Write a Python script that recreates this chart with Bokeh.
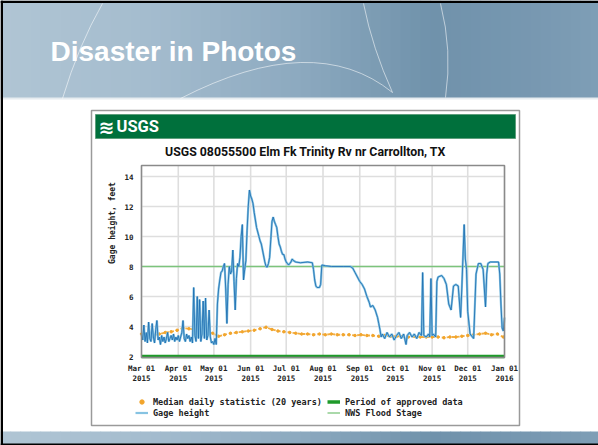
import pandas as pd
from bokeh.plotting import figure
from bokeh.models import (Range1d, FixedTicker, DatetimeTickFormatter, BoxAnnotation,
                          Label, Legend, LegendItem, LinearAxis, DatetimeAxis)
from bokeh.embed import file_html
from bokeh.resources import INLINE

# ---------------- data ----------------
START = "2015-03-01"
END = "2016-01-01"
month_ticks = ["2015-03-01", "2015-04-01", "2015-05-01", "2015-06-01", "2015-07-01",
               "2015-08-01", "2015-09-01", "2015-10-01", "2015-11-01", "2015-12-01",
               "2016-01-01"]
y_ticks = [2, 4, 6, 8, 10, 12, 14]
flood_stage_ft = 8.0
approved_dates = ["2015-03-01", "2016-01-01"]
approved_level = [2.0, 2.0]

# gage height: day offset from START, feet
gage_day = [0, 1, 2, 3, 4, 5, 6, 7, 8, 9, 10, 11, 12, 13, 14, 15, 16, 17, 18, 19, 20,
            21, 22, 23, 24, 25, 26, 27, 28, 29, 30,
            31, 32, 33, 34, 35, 36, 37, 38, 39, 40, 41, 42, 43, 44, 45, 46, 47, 48, 49, 50,
            51, 52, 53, 54, 55, 56, 57, 58, 59, 60,
            61, 62, 63, 64, 65, 66, 67, 68, 69, 70, 71, 72, 73, 74, 75, 76, 77, 78, 79, 80,
            81, 82, 83, 84, 85, 86, 87, 88, 89, 90,
            91, 92, 93, 94, 95, 96, 97, 98, 99, 100, 101, 102, 103, 104, 105, 106, 107, 108,
            109, 110, 111, 112, 113, 114, 115, 116, 117, 118, 119, 120, 121, 122, 123, 124,
            125, 126, 127, 128,
            130, 134, 140, 144, 145, 146, 147, 148, 150, 151, 152, 155, 160, 170, 176, 178,
            180, 182, 184, 186, 188, 190, 192, 193, 195, 197, 199, 200, 201, 202,
            203, 205, 207, 209, 211, 213, 215, 217, 219, 221, 223, 224, 226, 228, 230, 232,
            234, 236,
            237, 238, 240, 242, 243, 244, 245, 246, 248, 249, 250, 253, 255, 257, 259, 261,
            263, 265, 267, 269,
            270, 272, 273, 274, 275, 277, 279, 280, 282, 284, 286, 288, 290, 291, 292, 294,
            297, 301, 302, 303, 304, 305, 306]
gage_ft = [3.5, 3.1, 4.1, 3.0, 3.6, 2.9, 4.3, 3.2, 3.0, 4.2, 3.3, 2.9, 3.8, 4.4, 3.1, 3.3,
           2.8, 3.4, 3.0, 3.3, 2.9, 3.2, 3.6, 3.0, 3.2, 3.4, 3.1, 3.5, 3.0, 3.3, 3.1,
           3.4, 3.0, 3.3, 3.6, 4.4, 3.2, 3.0, 3.5, 3.2, 3.4, 3.0, 3.3, 2.9, 6.6, 3.4, 3.0,
           6.0, 3.2, 5.8, 3.0, 3.5, 5.7, 3.2, 5.9, 3.1, 3.4, 5.1, 3.3, 2.9, 3.0,
           2.8, 3.2, 2.8, 5.5, 6.5, 7.1, 7.6, 7.7, 8.0, 8.2, 6.5, 4.2, 6.8, 8.0, 7.5, 7.7,
           9.1, 7.0, 5.1, 7.2, 8.2, 8.0, 8.6, 10.0, 10.8, 7.1, 7.8, 8.4, 10.4, 12.0,
           13.1, 12.7, 12.5, 12.2, 11.6, 11.1, 10.6, 10.3, 10.0, 9.7, 9.5, 9.1, 8.7, 8.3,
           8.0, 7.96, 8.2, 8.6, 9.8, 11.0, 11.3, 11.0, 10.8, 10.6, 10.0, 9.5, 9.3, 9.0,
           8.8, 8.8, 8.5, 8.3, 8.2, 8.1, 8.2, 8.3, 8.5, 8.4,
           8.3, 8.25, 8.3, 8.25, 7.8, 7.1, 6.7, 6.6, 6.6, 6.8, 8.1, 8.05, 8.0, 8.0, 8.0,
           7.9, 7.6, 7.3, 7.0, 6.8, 6.5, 6.0, 5.6, 5.3, 5.4, 5.1, 4.6, 4.2, 3.8, 3.3,
           3.5, 3.2, 3.6, 3.3, 3.5, 3.1, 3.4, 3.6, 3.2, 3.5, 2.8, 3.4, 3.6, 3.3, 3.5, 3.2,
           3.6, 3.4,
           7.6, 3.4, 3.3, 3.5, 3.3, 7.2, 3.4, 3.5, 3.3, 7.0, 7.3, 7.4, 7.2, 6.8, 5.5, 5.1,
           6.7, 6.8, 6.7, 4.6,
           6.5, 10.8, 8.5, 7.8, 5.0, 3.5, 3.3, 3.2, 7.5, 8.2, 8.2, 7.8, 5.3, 7.5, 8.2, 8.3,
           8.3, 8.3, 7.5, 5.5, 3.9, 3.7, 4.6]

# median daily statistic (20 years), every 5 days from START
median_day = [0, 5, 10, 15, 20, 25, 30, 35, 40, 45, 50, 55, 60, 65, 70, 75, 80, 85, 90, 95,
              100, 105, 110, 115, 120, 125, 130, 135, 140, 145, 150, 155, 160, 165, 170,
              175, 180, 185, 190, 195, 200, 205, 210, 215, 220, 225, 230, 235, 240, 245,
              250, 255, 260, 265, 270, 275, 280, 285, 290, 295, 300, 305]
median_ft = [3.5, 3.45, 3.4, 3.5, 3.6, 3.65, 3.75, 3.9, 3.85, 3.8,
             3.75, 3.65, 3.55, 3.35, 3.45, 3.55, 3.6, 3.65, 3.7, 3.75,
             3.85, 3.95, 3.8, 3.7, 3.65, 3.6, 3.55, 3.5, 3.5, 3.45,
             3.5, 3.45, 3.5, 3.45, 3.45, 3.45, 3.4, 3.45, 3.4, 3.4,
             3.35, 3.4, 3.35, 3.35, 3.35, 3.3, 3.35, 3.3, 3.3, 3.3,
             3.3, 3.25, 3.3, 3.3, 3.35, 3.4, 3.45, 3.5, 3.55, 3.45,
             3.5, 3.3]

assert len(gage_day) == len(gage_ft)
assert len(median_day) == len(median_ft)

base = pd.Timestamp(START)
gage_x = [base + pd.Timedelta(days=d) for d in gage_day]
median_x = [base + pd.Timedelta(days=d) for d in median_day]
approved_x = [pd.Timestamp(d) for d in approved_dates]
flood_x = approved_x
flood_y = [flood_stage_ft, flood_stage_ft]


def ms(d):
    return pd.Timestamp(d).value / 1e6


tick_ms = [ms(t) for t in month_ticks]

# ---------------- layout (page pixel coords, y down) ----------------
W, H = 598, 445
FL, FR = 141, 504          # chart data area, left/right pixel
Y2, Y14 = 356, 176         # pixel rows of 2 ft and 14 ft
FT, FB = 165, 357          # chart frame top / bottom pixel
MONO = "DejaVu Sans Mono"

p = figure(width=W, height=H, output_backend="svg", toolbar_location=None, title=None,
           x_range=Range1d(0, W), y_range=Range1d(H, 0),
           x_axis_location=None, y_axis_location=None,
           min_border=0, min_border_left=0, min_border_right=0,
           min_border_top=0, min_border_bottom=0)
p.outline_line_color = None
p.border_fill_color = "white"
p.background_fill_color = "white"
p.grid.visible = False

# chart scales placed inside the page
t0, t1 = ms(START), ms(END)
ms_per_px = (t1 - t0) / (FR - FL)
ft_per_px = (14 - 2) / (Y2 - Y14)
p.extra_x_ranges = {"date": Range1d(t0 - FL * ms_per_px, t1 + (W - FR) * ms_per_px)}
p.extra_y_ranges = {"ft": Range1d(2 - (H - Y2) * ft_per_px, 14 + Y14 * ft_per_px)}
ft_bottom = 2 - (FB - Y2) * ft_per_px
ft_top = 14 + (Y14 - FT) * ft_per_px
R = dict(x_range_name="date", y_range_name="ft")

# ---------------- slide decorations ----------------
def box(x0, y0, x1, y1, fill="white", falpha=1.0, line=None, lw=1.0, level="underlay"):
    p.add_layout(BoxAnnotation(left=x0, right=x1, top=y0, bottom=y1,
                               fill_color=fill, fill_alpha=falpha,
                               line_color=line if line else "white",
                               line_alpha=1.0 if line else 0.0, line_width=lw,
                               level=level))


def label(X, Y, text, size, color="white", font="Liberation Sans", style="bold",
          align="left"):
    p.add_layout(Label(x=X, y=Y, text=text, text_font=font, text_font_size=size,
                       text_font_style=style, text_color=color, text_align=align,
                       text_baseline="middle"))


stops = [(0, (176, 197, 212)), (150, (164, 188, 206)), (300, (140, 169, 191)),
         (430, (112, 146, 171)), (520, (118, 151, 176)), (598, (126, 158, 182))]


def col_at(X):
    for (a, ca), (b, cb) in zip(stops[:-1], stops[1:]):
        if a <= X <= b:
            t = (X - a) / (b - a)
            c = [round(ca[i] + (cb[i] - ca[i]) * t) for i in range(3)]
            return "#%02x%02x%02x" % tuple(c)
    return "#%02x%02x%02x" % stops[-1][1]


for X0 in range(0, W, 10):
    box(X0, 0, X0 + 10.6, 98, fill=col_at(X0 + 5))
    box(X0, 431, X0 + 10.6, H, fill=col_at(X0 + 5))
box(0, 97, W, 99, fill="#e6ecf0")
box(0, 0, W, 2.5, fill="black")
box(0, 0, 2.5, H, fill="black")
box(0, 443, W, H, fill="black")

# faint decorative curves of the slide header
p.quadratic(x0=[102, 180, 363, 440], y0=[3, 98, 3, 3],
            x1=[62, 392, 392, 445], y1=[98, 92, 92, 97],
            cx=[78, 314, 372, 452], cy=[45, 29, 48, 50],
            line_color="white", line_alpha=0.55, line_width=1)

label(50, 51, "Disaster in Photos", "28px")

# chart card, USGS banner, chart title
box(91, 110, 519, 425, falpha=0, line="#9a9a9a", lw=1.5)
box(95, 114, 515, 138, fill="#00703c", line="#5d9e7c", lw=1)
label(98, 126, "\u224b", "19px", font="DejaVu Sans")
label(116, 126, "USGS", "16.5px", font="Roboto")
label(305, 151, "USGS 08055500 Elm Fk Trinity Rv nr Carrollton, TX", "12.3px",
      color="#111111", font="Roboto", align="center")

# ---------------- chart grid, axes and data ----------------
p.segment(x0=tick_ms, y0=[ft_bottom] * len(tick_ms), x1=tick_ms, y1=[ft_top] * len(tick_ms),
          line_color="#dedede", line_width=1.6, **R)
p.segment(x0=[t0] * len(y_ticks), y0=y_ticks, x1=[t1] * len(y_ticks), y1=y_ticks,
          line_color="#dedede", line_width=1.6, **R)

yax = LinearAxis(ticker=FixedTicker(ticks=y_ticks), fixed_location=t0, **R)
xax = DatetimeAxis(ticker=FixedTicker(ticks=tick_ms), fixed_location=ft_bottom, **R)
fmt = "%b %d\n%Y"
xax.formatter = DatetimeTickFormatter(milliseconds=fmt, seconds=fmt, minsec=fmt,
                                      minutes=fmt, hourmin=fmt, hours=fmt, days=fmt,
                                      months=fmt, years=fmt)
for ax in (xax, yax):
    ax.axis_line_color = None
    ax.major_tick_line_color = None
    ax.minor_tick_line_color = None
    ax.major_tick_out = 0
    ax.major_tick_in = 0
    ax.minor_tick_out = 0
    ax.minor_tick_in = 0
    ax.major_label_text_font = MONO
    ax.major_label_text_font_style = "bold"
    ax.major_label_text_font_size = "7.5px"
    ax.major_label_text_color = "#222222"
xax.major_label_standoff = 6
yax.major_label_standoff = 8
yax.axis_label = "Gage height, feet"
yax.axis_label_text_font = MONO
yax.axis_label_text_font_style = "bold"
yax.axis_label_text_font_size = "8px"
yax.axis_label_text_color = "#222222"
yax.axis_label_standoff = 4
p.add_layout(yax, "left")
p.add_layout(xax, "below")

r_flood = p.line(flood_x, flood_y, line_color="#7cc47c", line_width=1.3, **R)
p.line(median_x, median_ft, line_color="#f2a52c", line_width=1.8, line_dash="3 2",
       line_alpha=0.9, **R)
r_med = p.scatter(median_x, median_ft, size=2.5, color="#f2a52c", **R)
r_gage = p.line(gage_x, gage_ft, line_color="#86c3e2", line_width=2.2, **R)
p.line(gage_x, gage_ft, line_color="#1f6fb2", line_width=1.0, line_alpha=0.85, **R)
r_appr = p.line(approved_x, approved_level, line_color="#1f9a2a", line_width=3.5, **R)

# chart frame outline
box(FL, FT, FR, FB, falpha=0, line="#8a8a8a", lw=1.5, level="overlay")

legend = Legend(items=[
    LegendItem(label="Median daily statistic (20 years)", renderers=[r_med]),
    LegendItem(label="Gage height", renderers=[r_gage]),
    LegendItem(label="Period of approved data", renderers=[r_appr]),
    LegendItem(label="NWS Flood Stage", renderers=[r_flood]),
], nrows=2, location=(135, H - 418), orientation="vertical",
    label_text_font=MONO, label_text_font_style="bold", label_text_font_size="8.5px",
    label_text_color="#222222", glyph_width=13, glyph_height=11, label_height=11,
    label_width=174, label_standoff=5, spacing=0, padding=0, margin=0,
    border_line_color=None, background_fill_alpha=0)
p.add_layout(legend)

open("out.html", "w").write(file_html(p, INLINE))
